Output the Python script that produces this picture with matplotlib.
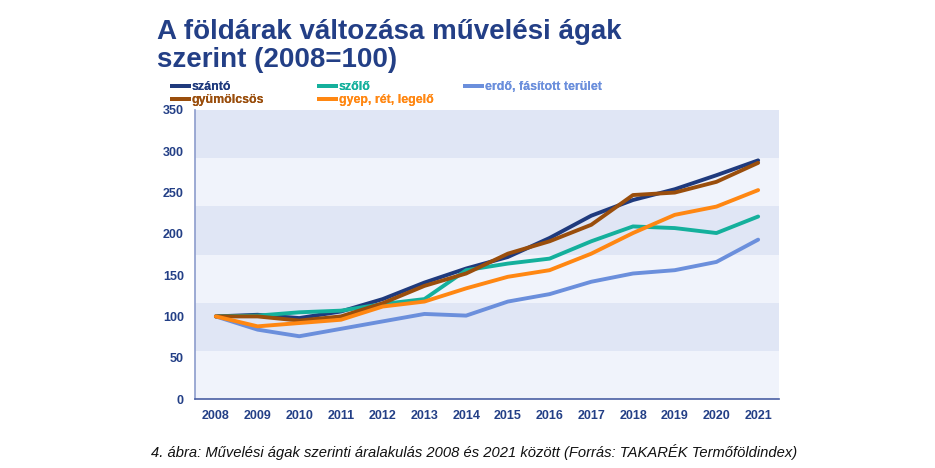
import numpy as np
import matplotlib
matplotlib.use('Agg')
import matplotlib.pyplot as plt

plt.rcParams['font.family'] = ['Liberation Sans', 'DejaVu Sans']

# adatok (2008=100)
years = [2008, 2009, 2010, 2011, 2012, 2013, 2014, 2015, 2016, 2017, 2018, 2019, 2020, 2021]
szanto = [100, 102, 98, 106, 121, 141, 158, 172, 195, 222, 241, 254, 271, 289]
szolo = [100, 101, 105, 107, 115, 121, 156, 164, 170, 191, 209, 207, 201, 221]
erdo = [100, 84, 76, 85, 94, 103, 101, 118, 127, 142, 152, 156, 166, 193]
gyumolcsos = [100, 100, 95, 100, 116, 137, 152, 176, 191, 211, 247, 250, 263, 286]
gyep = [100, 88, 92, 96, 112, 118, 134, 148, 156, 176, 201, 223, 233, 253]

series = [
    ('szántó', szanto, '#1f3a7d'),
    ('szőlő', szolo, '#14b09c'),
    ('erdő, fásított terület', erdo, '#6b8fdc'),
    ('gyümölcsös', gyumolcsos, '#9a4e0c'),
    ('gyep, rét, legelő', gyep, '#ff8712'),
]
# háttérsávok határai (a tengely 6 egyenlő része)
band_edges = np.linspace(0, 350, 7)

navy = '#233f86'

fig = plt.figure(figsize=(9.35, 4.68), dpi=100)
ax = fig.add_axes([195 / 935, 1 - 399 / 468, 584 / 935, 289 / 468])

for i in range(len(band_edges) - 1):
    col = '#f0f3fb' if i % 2 == 0 else '#e0e6f5'
    ax.axhspan(band_edges[i], band_edges[i + 1], color=col, lw=0, zorder=0)

lines = {}
for name, vals, col in series:
    ln, = ax.plot(years, vals, color=col, lw=2.8, label=name, zorder=3,
                  solid_joinstyle='round', solid_capstyle='round')
    lines[name] = ln

ax.set_xlim(2007.5, 2021.5)
ax.set_ylim(0, 350)
ax.set_xticks(years)
ax.set_yticks(np.arange(0, 351, 50))
ax.tick_params(length=0, labelsize=9, labelcolor=navy, pad=8)
for lab in ax.get_xticklabels() + ax.get_yticklabels():
    lab.set_fontweight('bold')
for s in ['top', 'right']:
    ax.spines[s].set_visible(False)
ax.spines['left'].set_color('#8c9ccc')
ax.spines['bottom'].set_color('#4a5fa3')
ax.spines['left'].set_linewidth(1.2)
ax.spines['bottom'].set_linewidth(1.2)

# jelmagyarázat: három oszlop
columns = [(170, ['szántó', 'gyümölcsös']),
           (317, ['szőlő', 'gyep, rét, legelő']),
           (463, ['erdő, fásított terület'])]
for x0, names in columns:
    leg = fig.legend([lines[n] for n in names], names, loc='upper left',
                     bbox_to_anchor=(x0 / 935, 1 - 81 / 468), frameon=False,
                     handlelength=1.7, handletextpad=0.05, labelspacing=0.12,
                     borderpad=0, borderaxespad=0,
                     prop={'size': 8.9, 'weight': 'bold'}, labelcolor='linecolor')
    for hl in leg.get_lines():
        hl.set_solid_capstyle('butt')
    fig.add_artist(leg)

fig.text(157 / 935, 1 - 19 / 468, 'A földárak változása művelési ágak\nszerint (2008=100)',
         ha='left', va='top', fontsize=20, fontweight='bold', color=navy,
         linespacing=1.08)

fig.text(474 / 935, 1 - 452 / 468,
         '4. ábra: Művelési ágak szerinti áralakulás 2008 és 2021 között (Forrás: TAKARÉK Termőföldindex)',
         ha='center', va='center', fontsize=10.6, style='italic', color='#111111')

fig.savefig('out.png', dpi=100)
